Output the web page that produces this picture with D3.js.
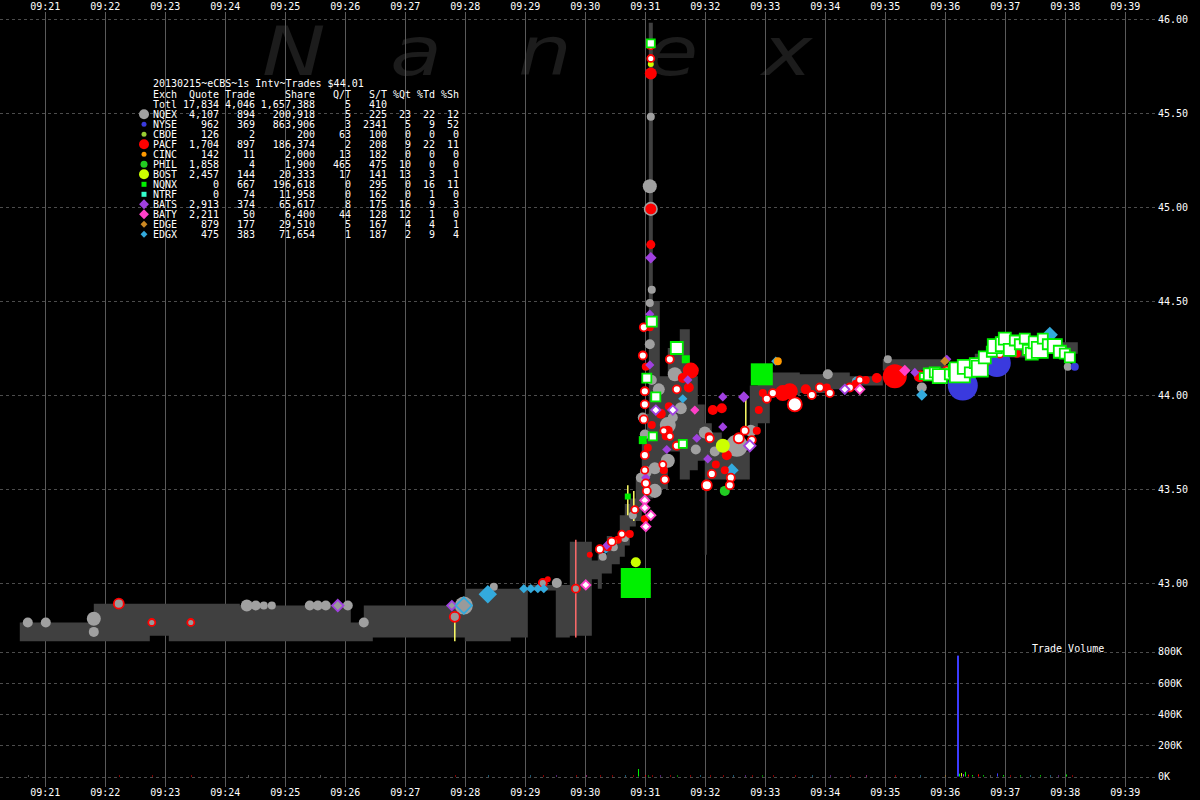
<!DOCTYPE html>
<html><head><meta charset="utf-8">
<script src="https://cdn.jsdelivr.net/npm/d3@7"></script>
<style>
html,body{margin:0;padding:0;background:#000;}
svg{display:block;}
</style></head><body>
<svg id="chart" width="1200" height="800"></svg>
<script>
// ---------------- DATA ----------------
const titleText = "20130215~eCBS~1s Intv~Trades $44.01";
const timeTicks = ["09:21","09:22","09:23","09:24","09:25","09:26","09:27","09:28","09:29","09:30","09:31","09:32","09:33","09:34","09:35","09:36","09:37","09:38","09:39"];
const priceTicks = [43.0, 43.5, 44.0, 44.5, 45.0, 45.5, 46.0];
const volumeTicks = [0, 200000, 400000, 600000, 800000];

const exchanges      = ["NQEX","NYSE","CBOE","PACF","CINC","PHIL","BOST","NQNX","NTRF","BATS","BATY","EDGE","EDGX"];
const quoteCounts    = [4107,962,126,1704,142,1858,2457,0,0,2913,2211,879,475];
const tradeCounts    = [894,369,2,897,11,4,144,667,74,374,50,177,383];
const shareCounts    = [200918,863906,200,186374,2000,1900,20333,196618,11958,65617,6400,29510,71654];
const quotesPerTrade = [5,3,63,2,13,465,17,0,0,8,44,5,1];
const sharesPerTrade = [225,2341,100,208,182,475,141,295,162,175,128,167,187];
const pctQuotes      = [23,5,0,9,0,10,13,0,0,16,12,4,2];
const pctTrades      = [22,9,0,22,0,0,3,16,1,9,1,4,9];
const pctShares      = [12,52,0,11,0,0,1,11,0,3,0,1,4];
const totalRow       = ["Totl",17834,4046,1657388,5,410];

// NBBO band (step after)
const bandTime = ["09:20:35","09:21:49","09:22:45","09:23:04","09:24:15","09:26:06","09:26:19","09:26:28","09:28:00","09:28:46","09:29:03","09:29:31","09:29:45","09:30:07","09:30:13","09:30:17","09:30:22","09:30:27","09:30:35","09:30:40","09:30:45","09:30:51","09:30:57","09:31:02","09:31:04","09:31:08","09:31:15","09:31:23","09:31:35","09:31:45","09:31:53","09:32:00","09:32:02","09:32:07","09:32:17","09:32:30","09:32:45","09:32:53","09:33:05","09:33:35","09:34:05","09:34:25","09:34:58","09:36:00","09:36:30","09:37:05","09:37:40","09:38:13"];
const bandBid  = [42.69,42.69,42.72,42.69,42.69,42.69,42.69,42.71,42.69,42.71,42.96,42.71,42.72,43.02,42.97,43.05,43.05,43.10,43.14,43.20,43.30,43.33,43.40,43.45,43.45,43.50,43.50,43.70,43.55,43.60,43.65,43.15,43.55,43.55,43.55,43.55,43.80,43.85,44.00,44.01,44.03,44.05,44.13,44.10,44.15,44.20,44.22,44.22];
const bandAsk  = [42.79,42.89,42.89,42.89,42.88,42.79,42.88,42.88,42.97,42.97,42.99,42.99,43.22,43.12,43.20,43.14,43.25,43.22,43.36,43.42,43.45,43.55,43.75,43.90,45.98,44.50,44.10,44.25,44.35,44.10,43.95,43.85,43.85,43.80,43.75,43.70,44.05,44.15,44.12,44.11,44.12,44.10,44.19,44.16,44.22,44.26,44.28,44.28];

// markers: [time, price, shares]
const nqexQuotes = [["09:20:43",42.79,3900],["09:21:01",42.79,3900],["09:21:49",42.81,7700],["09:21:49",42.74,3900],["09:24:22",42.88,5600],["09:24:31",42.88,3900],["09:24:39",42.88,2500],["09:24:47",42.88,2500],["09:25:25",42.88,3900],["09:25:33",42.88,3900],["09:25:41",42.88,3900],["09:26:03",42.88,3900],["09:26:19",42.79,3900],["09:27:50",42.82,3900],["09:27:59",42.88,12700],["09:28:29",42.98,2500],["09:29:32",43.00,3900],["09:30:18",43.14,2500],["09:30:29",43.19,2500],["09:30:40",43.24,2500],["09:30:48",43.36,2500],["09:30:56",43.56,3900],["09:30:58",43.88,3900],["09:31:00",43.79,3900],["09:31:01",43.59,5600],["09:31:05",44.49,2500],["09:31:05",45.11,7700],["09:31:06",45.48,2500],["09:31:06",44.99,7700],["09:31:07",44.56,2500],["09:31:05",44.27,3900],["09:31:07",44.08,3900],["09:31:10",43.61,5600],["09:31:10",43.49,7700],["09:31:23",43.84,10000],["09:31:28",43.88,3900],["09:31:23",43.65,7700],["09:31:30",44.11,7700],["09:31:51",43.71,3900],["09:32:00",43.80,5600],["09:32:03",43.79,3900],["09:32:32",43.73,18900],["09:32:46",43.81,5600],["09:34:03",44.11,3900],["09:34:32",44.07,3900],["09:35:03",44.19,2500],["09:35:37",44.04,3900],["09:36:30",44.13,3900],["09:36:45",44.16,2500],["09:38:03",44.15,2500],["09:31:14",44.03,5600],["09:31:36",43.93,5600],["09:32:10",43.70,3900]];
const pacfQuotes = [["09:29:23",43.02,1400],["09:30:05",43.15,1400],["09:30:23",43.19,2500],["09:30:33",43.23,2500],["09:30:45",43.26,2500],["09:31:00",43.34,2500],["09:31:06",45.71,5600],["09:31:06",44.99,4700],["09:31:06",44.80,3200],["09:31:05",44.36,2500],["09:31:01",44.15,2500],["09:31:07",43.84,2500],["09:31:46",44.13,10000],["09:31:38",44.09,3900],["09:31:44",44.04,3900],["09:31:24",43.94,2500],["09:31:23",43.81,3900],["09:31:21",43.78,2500],["09:31:19",43.60,2500],["09:32:08",43.92,3900],["09:32:17",43.93,3900],["09:32:04",43.78,2500],["09:32:20",43.60,2500],["09:32:11",43.63,2500],["09:32:58",44.01,2500],["09:32:54",43.92,2500],["09:32:52",43.81,2500],["09:33:18",44.01,10000],["09:33:25",44.02,10000],["09:33:41",44.03,3900],["09:34:02",44.04,2500],["09:34:31",44.06,2500],["09:34:41",44.08,2500],["09:34:52",44.09,3900],["09:35:10",44.10,22500],["09:35:35",44.10,5600],["09:31:03",43.72,2500],["09:31:16",43.90,3900],["09:32:22",43.68,3900],["09:36:40",44.17,3900],["09:37:12",44.22,2500],["09:37:48",44.25,2500]];
const pacfEarlyTrades = [["09:22:14",42.89,3900],["09:22:47",42.79,1900],["09:23:26",42.79,1900],["09:27:50",42.82,3900],["09:29:18",43.00,2500],["09:29:51",42.97,2500]];
const pacfTrades = [["09:30:15",43.18,2500],["09:30:27",43.22,2500],["09:30:37",43.26,1900],["09:30:50",43.39,1900],["09:31:06",45.86,2500],["09:31:06",45.79,1900],["09:30:59",44.36,2500],["09:31:00",44.02,2500],["09:31:00",43.95,2500],["09:30:59",43.87,2500],["09:31:00",43.68,2500],["09:31:00",43.60,1900],["09:31:02",43.49,2500],["09:31:25",44.19,2500],["09:31:32",44.03,2500],["09:31:19",43.81,1900],["09:31:25",43.78,1900],["09:31:18",43.63,1900],["09:31:32",43.73,2500],["09:32:05",43.77,2500],["09:32:02",43.52,3900],["09:32:26",43.56,2500],["09:32:34",43.77,3900],["09:32:40",43.81,2500],["09:32:47",43.76,2500],["09:33:02",43.98,2500],["09:33:08",44.01,2500],["09:33:30",43.95,7700],["09:33:47",44.00,2500],["09:33:55",44.04,2500],["09:34:05",44.01,2500],["09:34:25",44.04,2500],["09:34:35",44.08,1900],["09:30:58",44.21,2500],["09:31:01",43.53,2500],["09:31:20",43.55,2500],["09:32:07",43.58,2500],["09:32:25",43.52,2500],["09:36:02",44.13,2500],["09:36:55",44.22,2500],["09:37:33",44.27,2500]];
const batsQuotes = [["09:30:22",43.20,2500],["09:31:06",44.73,3900],["09:31:05",44.43,2500],["09:31:05",44.16,2500],["09:31:43",44.08,2500],["09:31:22",43.71,2500],["09:31:52",43.77,2500],["09:32:18",43.83,2500],["09:32:18",43.99,2500],["09:32:39",43.99,3900],["09:32:03",43.66,2500],["09:35:30",44.12,2500],["09:36:02",44.19,2500],["09:31:01",43.56,2500],["09:37:20",44.26,2500]];
const batsEarlyTrades = [["09:25:53",42.88,3900],["09:27:47",42.88,2500]];
const batsTrades = [["09:31:11",43.92,2500],["09:31:28",43.92,2500],["09:32:45",43.73,3900],["09:34:20",44.03,2500]];
const batyQuotes = [["09:35:20",44.13,3900],["09:31:50",43.92,2500]];
const batyTrades = [["09:31:00",43.44,2500],["09:31:00",43.40,2500],["09:31:06",43.36,2500],["09:30:01",42.99,2500],["09:34:35",44.03,2500],["09:31:01",43.30,2500]];
const nqnxTrades = [["09:31:06",45.87,2500],["09:31:07",44.39,3900],["09:31:02",44.09,3200],["09:31:11",43.99,3200],["09:31:08",43.78,2500],["09:31:32",44.25,5600],["09:31:38",43.74,2500],["09:35:38",44.10,1400],["09:35:45",44.11,5600],["09:35:50",44.12,3900],["09:35:55",44.10,7700],["09:36:05",44.11,3900],["09:36:10",44.13,5600],["09:36:15",44.12,15600],["09:36:20",44.15,7700],["09:36:25",44.12,3900],["09:36:30",44.17,3900],["09:36:35",44.14,10000],["09:36:40",44.20,5600],["09:36:47",44.23,3900],["09:36:50",44.26,7700],["09:36:58",44.27,7700],["09:37:00",44.30,5600],["09:37:05",44.24,5600],["09:37:10",44.29,3900],["09:37:15",44.27,3900],["09:37:20",44.30,3900],["09:37:23",44.24,3900],["09:37:27",44.22,5600],["09:37:30",44.28,5600],["09:37:35",44.24,10000],["09:37:38",44.30,3900],["09:37:43",44.27,3900],["09:37:50",44.26,7700],["09:37:55",44.23,5600],["09:38:00",44.22,3900],["09:38:05",44.20,3900]];
const nqnxBlocks = [["09:30:51",43.00,35200],["09:32:57",44.11,18900],["09:31:41",44.19,2500],["09:30:58",43.76,2500],["09:30:43",43.46,1400]];
const nyseQuotes = [["09:36:18",44.05,35200],["09:36:52",44.17,30600],["09:38:10",44.15,2500]];
const edgxQuotes = [["09:28:23",42.94,10000],["09:28:59",42.97,2500],["09:29:06",42.97,2500],["09:29:13",42.97,2500],["09:29:19",42.97,2500],["09:30:21",43.18,2500],["09:31:38",43.98,2500],["09:32:27",43.60,5600],["09:33:11",44.18,2500],["09:34:31",44.08,1400],["09:35:37",44.00,3900],["09:37:45",44.32,7700]];
const edgxEarlyTrades = [["09:27:59",42.88,7700]];
const edgeQuotes = [["09:36:00",44.18,2500],["09:37:07",44.25,2500],["09:36:40",44.19,2500]];
const cincQuotes = [["09:33:13",44.18,2500]];
const bostQuotes = [["09:32:18",43.73,7700],["09:30:51",43.11,3900],["09:31:06",45.76,1400]];
const philQuotes = [["09:32:20",43.49,3900]];
const cboeQuotes = [["09:30:30",43.22,900]];

// single-exchange quote spread lines: [time, low, high, exch]
const quoteLines = [["09:27:50",42.69,42.82,"CBOE"],["09:29:51",42.71,43.23,"PACF"],["09:30:43",43.36,43.52,"CBOE"],["09:30:49",43.33,43.49,"CBOE"],["09:32:41",43.81,43.99,"CBOE"]];

// trade volume: [time, shares, exch]
const tradeVolume = [["09:20:43",1000,"NQEX"],["09:22:14",1500,"PACF"],["09:22:47",800,"PACF"],["09:23:26",800,"PACF"],["09:24:23",600,"NQEX"],["09:25:35",600,"NQEX"],["09:27:50",2500,"PACF"],["09:28:23",1500,"EDGX"],["09:29:05",1500,"EDGX"],["09:29:18",2000,"PACF"],["09:29:31",1500,"BATS"],["09:29:51",2500,"PACF"],["09:30:01",2000,"BATY"],["09:30:15",3000,"PACF"],["09:30:27",2500,"PACF"],["09:30:40",3000,"EDGX"],["09:30:48",3500,"PACF"],["09:30:53",48000,"NQNX"],["09:31:00",8000,"PACF"],["09:31:03",5000,"NQNX"],["09:31:07",6000,"PACF"],["09:31:15",3000,"BATS"],["09:31:25",4000,"PACF"],["09:31:32",3000,"NQNX"],["09:31:45",2500,"PACF"],["09:31:55",2000,"EDGX"],["09:32:05",3000,"PACF"],["09:32:18",2500,"PACF"],["09:32:28",3000,"EDGX"],["09:32:40",2000,"BATS"],["09:32:47",2500,"PACF"],["09:32:57",4000,"NQNX"],["09:33:08",3000,"PACF"],["09:33:30",3500,"PACF"],["09:33:47",2500,"EDGX"],["09:34:05",2500,"BATS"],["09:34:25",2000,"PACF"],["09:34:41",2000,"BATY"],["09:35:10",3500,"PACF"],["09:35:35",2500,"EDGX"],["09:36:00",2000,"EDGE"],["09:36:12",775000,"NYSE"],["09:36:14",18000,"NQNX"],["09:36:16",22000,"BOST"],["09:36:18",15000,"BATS"],["09:36:20",30000,"NQNX"],["09:36:23",12000,"PACF"],["09:36:27",9000,"NQNX"],["09:36:33",14000,"PACF"],["09:36:38",8000,"NQNX"],["09:36:45",6000,"NQEX"],["09:36:52",20000,"NYSE"],["09:36:58",9000,"NQNX"],["09:37:05",6000,"PACF"],["09:37:15",7000,"NQNX"],["09:37:25",5000,"EDGX"],["09:37:35",8000,"NQNX"],["09:37:45",6000,"EDGX"],["09:37:53",5000,"BATS"],["09:38:01",13000,"NQNX"],["09:38:07",4000,"PACF"]];

// ---------------- DRAWING ----------------
const parseT = d3.timeParse("%H:%M:%S");
const parseM = d3.timeParse("%H:%M");
const svg = d3.select("#chart");
const mono = "'DejaVu Sans Mono', monospace";

const x = d3.scaleTime().domain([parseM("09:21"), parseM("09:39")]).range([44.8, 1124.8]);
const y = d3.scaleLinear().domain([43, 46]).range([583, 19]);
const yv = d3.scaleLinear().domain([0, 800000]).range([776.5, 651.7]);
const rad = d3.scaleSqrt().domain([0, 10000]).range([0, 8]);

const colors = {NQEX:"#a0a0a0", NYSE:"#3a3ade", CBOE:"#99cc33", PACF:"#ff0000", CINC:"#ff9900", PHIL:"#22cc22", BOST:"#ccff00", NQNX:"#00f000", NTRF:"#33ffcc", BATS:"#a040e0", BATY:"#ff40c8", EDGE:"#cc8822", EDGX:"#33aadd"};
const shapes = {NQEX:"circle", NYSE:"circle", CBOE:"circle", PACF:"circle", CINC:"circle", PHIL:"circle", BOST:"circle", NQNX:"square", NTRF:"square", BATS:"diamond", BATY:"diamond", EDGE:"diamond", EDGX:"diamond"};
const lineColors = {CBOE:"#ffff66", PACF:"#ff6a6a"};
const volColors = Object.assign({}, colors, {NYSE:"#3c3cff"});

function shapePath(shape, s) {
  if (shape === "square") return `M${-s},${-s}h${2*s}v${2*s}h${-2*s}Z`;
  if (shape === "diamond") { const d = s * 1.15; return `M0,${-d}L${d},0L0,${d}L${-d},0Z`; }
  return `M${-s},0a${s},${s} 0 1,0 ${2*s},0a${s},${s} 0 1,0 ${-2*s},0Z`;
}

svg.append("rect").attr("width", 1200).attr("height", 800).attr("fill", "#000");

// watermark (stretched horizontally)
const wm = svg.append("text").attr("transform", "scale(1.25,1)").attr("y", 75)
  .attr("font-family", "'DejaVu Sans', sans-serif")
  .attr("font-style", "italic").attr("font-size", 68).attr("fill", "#1c1c1c");
["N","a","n","e","x"].forEach((ch, i) => wm.append("tspan").attr("x", [262, 390, 518, 646, 762][i] / 1.25).text(ch));

// horizontal dashed grid
const hg = svg.append("g").attr("stroke", "#4c4c4c").attr("stroke-dasharray", "3,3").attr("stroke-width", 1);
priceTicks.forEach(p => hg.append("line").attr("x1", 0).attr("x2", 1155).attr("y1", Math.round(y(p)) + 0.5).attr("y2", Math.round(y(p)) + 0.5));
volumeTicks.forEach(v => hg.append("line").attr("x1", 0).attr("x2", 1155).attr("y1", Math.round(yv(v)) + 0.5).attr("y2", Math.round(yv(v)) + 0.5));

// vertical grid
const vg = svg.append("g").attr("stroke", "#5a5a5a").attr("stroke-width", 1);
timeTicks.forEach(t => { const xx = Math.round(x(parseM(t))) + 0.5; vg.append("line").attr("x1", xx).attr("x2", xx).attr("y1", 12).attr("y2", 787); });

// NBBO band
const band = bandTime.map((t, i) => ({t: parseT(t), bid: bandBid[i], ask: bandAsk[i]}));
svg.append("path").datum(band)
  .attr("d", d3.area().curve(d3.curveStepAfter).x(d => x(d.t)).y0(d => y(d.bid)).y1(d => y(d.ask)))
  .attr("fill", "#404040");

// quote lines
svg.append("g").selectAll("line").data(quoteLines).join("line")
  .attr("x1", d => x(parseT(d[0]))).attr("x2", d => x(parseT(d[0])))
  .attr("y1", d => y(d[1])).attr("y2", d => y(d[2]))
  .attr("stroke", d => lineColors[d[3]]).attr("stroke-width", 1.5);

// markers
const layers = [
  [nqexQuotes, "NQEX", "quote"],
  [pacfEarlyTrades, "PACF", "early"],
  [batsEarlyTrades, "BATS", "early"],
  [edgxEarlyTrades, "EDGX", "early"],
  [edgxQuotes, "EDGX", "quote"],
  [nqnxBlocks, "NQNX", "quote"],
  [nyseQuotes, "NYSE", "quote"],
  [pacfQuotes, "PACF", "quote"],
  [batsQuotes, "BATS", "quote"],
  [batyQuotes, "BATY", "quote"],
  [edgeQuotes, "EDGE", "quote"],
  [cincQuotes, "CINC", "quote"],
  [bostQuotes, "BOST", "quote"],
  [philQuotes, "PHIL", "quote"],
  [cboeQuotes, "CBOE", "quote"],
  [pacfTrades, "PACF", "trade"],
  [batsTrades, "BATS", "trade"],
  [batyTrades, "BATY", "trade"],
  [nqnxTrades, "NQNX", "trade"]
];
const mg = svg.append("g");
layers.forEach(([data, ex, kind]) => {
  mg.append("g").selectAll("path").data(data).join("path")
    .attr("transform", d => `translate(${x(parseT(d[0]))},${y(d[1])})`)
    .attr("d", d => shapePath(shapes[ex], rad(d[2])))
    .attr("fill", kind === "quote" ? colors[ex] : (kind === "early" ? "#9a9a9a" : "#ffffff"))
    .attr("stroke", kind === "quote" ? "none" : colors[ex])
    .attr("stroke-width", kind === "quote" ? 0 : 1.8);
});

// trade volume bars
svg.append("g").selectAll("rect").data(tradeVolume).join("rect")
  .attr("x", d => Math.round(x(parseT(d[0])))).attr("width", d => d[1] > 100000 ? 2 : 1)
  .attr("y", d => Math.min(yv(d[1]), yv(0) - 1)).attr("height", d => Math.max(1, yv(0) - yv(d[1])))
  .attr("fill", d => volColors[d[2]]);

// axes
function styleAxis(g) {
  g.select(".domain").remove();
  g.selectAll("line").remove();
  g.selectAll("text").attr("fill", "#fff").attr("font-family", mono).attr("font-size", 10);
}
svg.append("g").attr("transform", "translate(0,10)")
  .call(d3.axisTop(x).tickValues(timeTicks.map(parseM)).tickFormat(d3.timeFormat("%H:%M")).tickSize(0).tickPadding(0))
  .call(styleAxis);
svg.append("g").attr("transform", "translate(0,789)")
  .call(d3.axisBottom(x).tickValues(timeTicks.map(parseM)).tickFormat(d3.timeFormat("%H:%M")).tickSize(0).tickPadding(0))
  .call(styleAxis);
svg.append("g").attr("transform", "translate(1158,0)")
  .call(d3.axisRight(y).tickValues(priceTicks).tickFormat(d3.format(".2f")).tickSize(0).tickPadding(0))
  .call(styleAxis);
svg.append("g").attr("transform", "translate(1158,0)")
  .call(d3.axisRight(yv).tickValues(volumeTicks).tickFormat(d => (d / 1000) + "K").tickSize(0).tickPadding(0))
  .call(styleAxis);
svg.append("text").attr("x", 1032).attr("y", 651.5).attr("fill", "#fff")
  .attr("font-family", mono).attr("font-size", 10).text("Trade Volume");

// legend table
const lg = svg.append("g").attr("font-family", mono).attr("font-size", 10).attr("fill", "#fff");
const rowY = i => 88 + 10 * i;
lg.append("text").attr("x", 153).attr("y", rowY(0) - 1.5).text(titleText);
const colX = [219, 255, 315, 351, 387, 411, 435, 459];
const headers = ["Quote","Trade","Share","Q/T","S/T","%Qt","%Td","%Sh"];
lg.append("text").attr("x", 153).attr("y", rowY(1)).text("Exch");
headers.forEach((h, j) => lg.append("text").attr("x", colX[j]).attr("y", rowY(1)).attr("text-anchor", "end").text(h));
const comma = d3.format(",");
function drawRow(i, name, vals) {
  lg.append("text").attr("x", 153).attr("y", rowY(i)).text(name);
  vals.forEach((v, j) => {
    if (v === null) return;
    lg.append("text").attr("x", colX[j]).attr("y", rowY(i)).attr("text-anchor", "end").text(j < 3 ? comma(v) : String(v));
  });
}
drawRow(2, totalRow[0], [totalRow[1], totalRow[2], totalRow[3], totalRow[4], totalRow[5], null, null, null]);
const legendR = {NQEX:5, NYSE:2.5, CBOE:2.5, PACF:5, CINC:2.5, PHIL:3.5, BOST:5, NQNX:2.5, NTRF:2.5, BATS:4.3, BATY:4.3, EDGE:3, EDGX:3};
exchanges.forEach((ex, k) => {
  const i = k + 3;
  drawRow(i, ex, [quoteCounts[k], tradeCounts[k], shareCounts[k], quotesPerTrade[k], sharesPerTrade[k], pctQuotes[k], pctTrades[k], pctShares[k]]);
  svg.append("path").attr("transform", `translate(144,${rowY(i) - 3.7})`)
    .attr("d", shapePath(shapes[ex], legendR[ex])).attr("fill", colors[ex]);
});
</script></body></html>
